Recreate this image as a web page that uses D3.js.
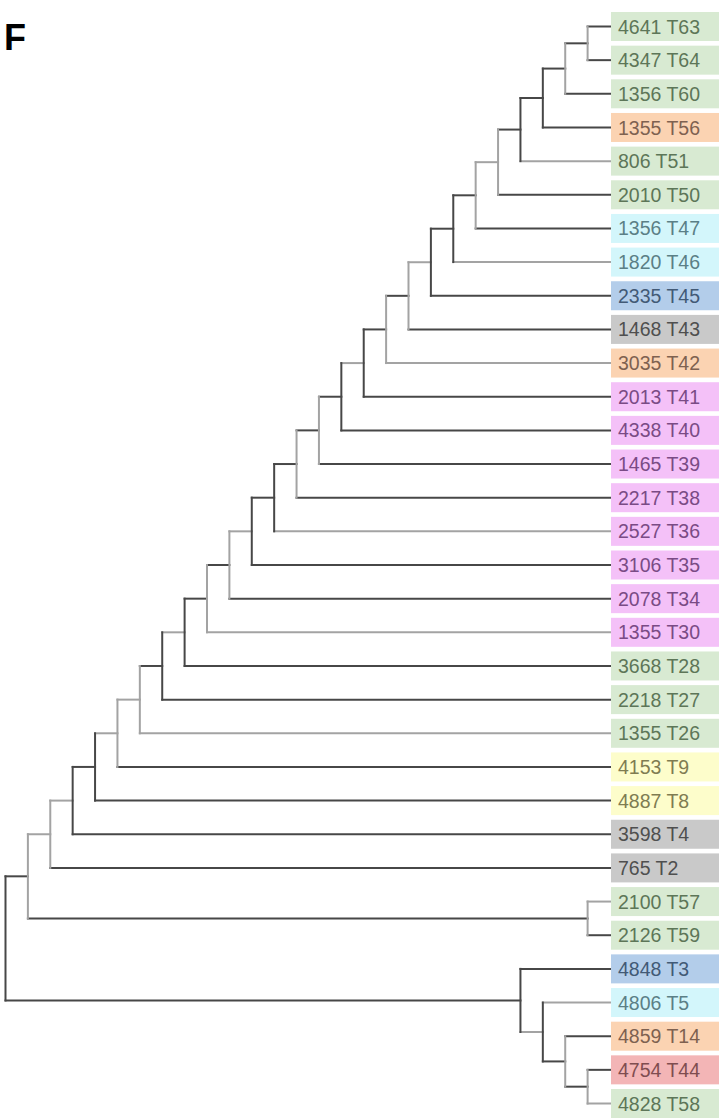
<!DOCTYPE html>
<html><head><meta charset="utf-8">
<script src="https://cdn.jsdelivr.net/npm/d3@7"></script>
<style>body{margin:0;background:#fff}svg{display:block}</style>
</head><body>
<svg id="c" width="719" height="1118"></svg>
<script>
// ---- data ----
const leafIds    = ["T63","T64","T60","T56","T51","T50","T47","T46","T45","T43","T42","T41","T40","T39","T38","T36","T35","T34","T30","T28","T27","T26","T9","T8","T4","T2","T57","T59","T3","T5","T14","T44","T58"];
const leafCounts = [4641,4347,1356,1355,806,2010,1356,1820,2335,1468,3035,2013,4338,1465,2217,2527,3106,2078,1355,3668,2218,1355,4153,4887,3598,765,2100,2126,4848,4806,4859,4754,4828];
const leafGroups = ["green","green","green","orange","green","green","cyan","cyan","blue","gray","orange","pink","pink","pink","pink","pink","pink","pink","pink","green","green","green","yellow","yellow","gray","gray","green","green","blue","cyan","orange","red","green"];
// internal nodes: [name, child1, child2]
const merges = [
  ["N1","T63","T64"],["N2","N1","T60"],["N3","N2","T56"],["N4","N3","T51"],["N5","N4","T50"],
  ["N6","N5","T47"],["N7","N6","T46"],["N8","N7","T45"],["N9","N8","T43"],["N10","N9","T42"],
  ["N11","N10","T41"],["N12","N11","T40"],["N13","N12","T39"],["N14","N13","T38"],["N15","N14","T36"],
  ["N16","N15","T35"],["N17","N16","T34"],["N18","N17","T30"],["N19","N18","T28"],["N20","N19","T27"],
  ["N21","N20","T26"],["N22","N21","T9"],["N23","N22","T8"],["N24","N23","T4"],["N25","N24","T2"],
  ["P","T57","T59"],["N26","N25","P"],
  ["B1","T44","T58"],["B2","T14","B1"],["B3","T5","B2"],["B4","T3","B3"],
  ["R","N26","B4"]
];
// branch shade: nodes whose horizontal branch is dark (others light)
const darkHorizontal = ["T63","T64","T60","T56","T50","T47","T45","T43","T41","T40","T39","T38","T35","T34","T28","T27","T9","T8","T4","T2","T59","T3","T14","T44",
  "N1","N2","N3","N4","N6","N7","N9","N10","N12","N13","N14","N15","N17","N18","N20","N23","N26","P","B4","B2","B1"];
// nodes whose vertical connector is dark
const darkVertical = ["N3","N4","N7","N8","N11","N12","N15","N16","N19","N20","N23","N24","R","B4","B3"];
const groupFill = {green:"#d8ead2",orange:"#fbd3b2",cyan:"#d3f6fb",blue:"#b3cdea",gray:"#c9c9c9",pink:"#f4c1f8",yellow:"#fdfdcb",red:"#f3b5b6"};
const groupText = {green:"#5d7658",orange:"#7e6150",cyan:"#5b7f86",blue:"#425a76",gray:"#4f4f4f",pink:"#7a4b85",yellow:"#7f7c52",red:"#7f4d50"};
const panelLabel = "F";

// ---- build hierarchy ----
const childMap = new Map(merges.map(m => [m[0], [m[1], m[2]]]));
function build(name){ const c = childMap.get(name); return c ? {name, children: c.map(build)} : {name}; }
const root = d3.hierarchy(build("R"));
const leaves = root.leaves();
const idx = new Map(leafIds.map((d,i)=>[d,i]));

const y = d3.scaleLinear().domain([0, leafIds.length-1]).range([26.5, 1103.5]);
const x = d3.scaleLinear().domain([0, root.height]).range([610, 5.5]);

root.eachAfter(n => {
  n.px = x(n.height);
  n.py = n.children ? d3.mean(n.children, c => c.py) : y(idx.get(n.data.name));
});

const DARK = "#474747", LIGHT = "#a3a3a3";
const dh = new Set(darkHorizontal), dv = new Set(darkVertical);
const svg = d3.select("#c");

const g = svg.append("g").attr("fill","none").attr("stroke-width",2).attr("stroke-linecap","square");
// horizontals
g.selectAll("line.h").data(root.descendants().filter(n => n.parent)).join("line")
  .attr("class","h")
  .attr("x1", n => n.parent.px).attr("x2", n => n.children ? n.px : 610)
  .attr("y1", n => n.py).attr("y2", n => n.py)
  .attr("stroke", n => dh.has(n.data.name) ? DARK : LIGHT);
// verticals
g.selectAll("line.v").data(root.descendants().filter(n => n.children)).join("line")
  .attr("class","v")
  .attr("x1", n => n.px).attr("x2", n => n.px)
  .attr("y1", n => n.children[0].py).attr("y2", n => n.children[1].py)
  .attr("stroke", n => dv.has(n.data.name) ? DARK : LIGHT);

// leaf boxes
const lg = svg.append("g").selectAll("g").data(leafIds).join("g")
  .attr("transform", (d,i) => `translate(611,${y(i)})`);
lg.append("rect").attr("x",0).attr("y",-14.5).attr("width",110).attr("height",29)
  .attr("fill", (d,i) => groupFill[leafGroups[i]]);
lg.append("text").attr("x",7).attr("y",0).attr("dy","0.36em")
  .attr("font-family","'Liberation Sans', Arial, sans-serif").attr("font-size",19.5)
  .attr("fill", (d,i) => groupText[leafGroups[i]])
  .text((d,i) => `${leafCounts[i]} ${d}`);

svg.append("text").attr("x",4).attr("y",50).attr("font-family","'Liberation Sans', Arial, sans-serif")
  .attr("font-weight","bold").attr("font-size",36).attr("fill","#000").text(panelLabel);
</script>
</body></html>
